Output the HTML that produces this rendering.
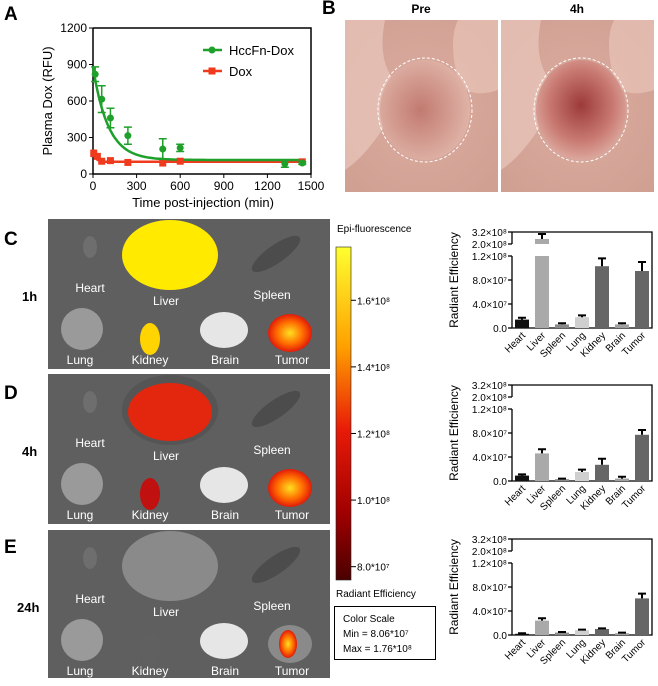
<!DOCTYPE html>
<html><head><meta charset="utf-8"><style>
body{margin:0;background:#fff;width:658px;height:681px;overflow:hidden;font-family:"Liberation Sans",Arial,sans-serif}
svg text{font-family:"Liberation Sans",Arial,sans-serif}
</style></head><body>
<svg id="fig" width="658" height="681" viewBox="0 0 658 681" xmlns="http://www.w3.org/2000/svg">
<defs>
<linearGradient id="cbar" x1="0" y1="0" x2="0" y2="1">
<stop offset="0" stop-color="#ffff30"/><stop offset="0.3" stop-color="#ffa000"/><stop offset="0.55" stop-color="#e81a08"/><stop offset="0.8" stop-color="#a00000"/><stop offset="1" stop-color="#4a0000"/></linearGradient>
<radialGradient id="skin" cx="0.5" cy="0.5" r="0.7"><stop offset="0" stop-color="#dcaca0"/><stop offset="1" stop-color="#cf9f92"/></radialGradient>
<radialGradient id="tum1" cx="0.45" cy="0.5" r="0.6"><stop offset="0" stop-color="#c27a70"/><stop offset="1" stop-color="#e2b8ac"/></radialGradient>
<radialGradient id="tum2" cx="0.5" cy="0.45" r="0.6"><stop offset="0" stop-color="#9c3a3a"/><stop offset="0.6" stop-color="#c97a72"/><stop offset="1" stop-color="#e0b3a8"/></radialGradient>
<radialGradient id="hot" cx="0.5" cy="0.5" r="0.5"><stop offset="0" stop-color="#ffe020"/><stop offset="0.6" stop-color="#ff6a00"/><stop offset="1" stop-color="#e01a0a"/></radialGradient>
</defs>
<g id="root"></g>
</svg>
<script>
// Panel A data
const timesH=[15,60,120,240,480,600,1320,1440];
const valsH=[820,615,460,315,205,215,85,90];
const errH=[60,110,80,70,85,30,30,10];
const timesD=[5,30,60,120,240,480,600,1440];
const valsD=[170,145,105,110,95,90,105,100];
const errD=[25,20,15,10,8,15,12,5];
const fitH={plateau:115,span:760,k:0.0095};
const fitD={plateau:100,span:80,k:0.05};
const xTicksA=[0,300,600,900,1200,1500];
const yTicksA=[0,300,600,900,1200];
// Bar chart data
const organs=["Heart","Liver","Spleen","Lung","Kidney","Brain","Tumor"];
const bars1h=[1.4e7,2.5e8,0.6e7,1.8e7,1.03e8,0.6e7,0.95e8];
const err1h=[0.3e7,0.5e8,0.2e7,0.3e7,1.3e7,0.2e7,1.5e7];
const bars4h=[0.9e7,4.6e7,0.3e7,1.5e7,2.7e7,0.4e7,7.7e7];
const err4h=[0.2e7,0.7e7,0.1e7,0.4e7,1.0e7,0.3e7,0.8e7];
const bars24h=[0.2e7,2.4e7,0.4e7,0.8e7,1.0e7,0.3e7,6.1e7];
const err24h=[0.1e7,0.4e7,0.1e7,0.1e7,0.1e7,0.1e7,0.8e7];
const barTickLow=[0,4e7,8e7,1.2e8];
const barTickLowLbl=["0.0","4.0×10⁷","8.0×10⁷","1.2×10⁸"];
const cbTicks=[1.6e8,1.4e8,1.2e8,1.0e8,8.0e7];
const cbTickLbl=["1.6*10⁸","1.4*10⁸","1.2*10⁸","1.0*10⁸","8.0*10⁷"];

const NS="http://www.w3.org/2000/svg";
const root=document.getElementById('root');
function mk(tag,attrs,parent,txt){const e=document.createElementNS(NS,tag);for(const k in attrs)e.setAttribute(k,attrs[k]);if(txt!==undefined)e.textContent=txt;(parent||root).appendChild(e);return e;}

[["A",4,20],["B",322,14],["C",4,245],["D",4,399],["E",4,553]].forEach(([t,x,y])=>{
 const e=mk('text',{x:x,y:y,'font-size':19,'font-weight':'bold'},root,t);
 
 
});

// ===== Panel A
const gA=mk('g',{});


const ax0=93,ax1=311,ay0=174,ay1=28;
const xA=v=>ax0+(v/1500)*(ax1-ax0);
const yA=v=>ay0-(v/1200)*(ay0-ay1);
let e;
e=mk('path',{d:`M${ax0} ${ay1}V${ay0}H${ax1}V${ay1}H${ax0}`,fill:'none',stroke:'#000','stroke-width':1.5},gA);

xTicksA.forEach(v=>{mk('line',{x1:xA(v),x2:xA(v),y1:ay0,y2:ay0+4,stroke:'#000'},gA);
 e=mk('text',{x:xA(v),y:ay0+16,'font-size':12,'text-anchor':'middle'},gA,v);
 });
yTicksA.forEach(v=>{mk('line',{x1:ax0-4,x2:ax0,y1:yA(v),y2:yA(v),stroke:'#000'},gA);
 e=mk('text',{x:ax0-6,y:yA(v)+4,'font-size':12,'text-anchor':'end'},gA,v);
 });
e=mk('text',{x:203,y:207,'font-size':13,'text-anchor':'middle'},gA,'Time post-injection (min)');

e=mk('text',{x:0,y:0,'font-size':13,'text-anchor':'middle',transform:`translate(52,101) rotate(-90)`},gA,'Plasma Dox (RFU)');

function fitPath(f){let d='';for(let t=0;t<=1440;t+=10){const v=f.plateau+f.span*Math.exp(-f.k*t);d+=(t?'L':'M')+xA(t).toFixed(1)+' '+yA(v).toFixed(1);}return d;}
e=mk('path',{d:fitPath(fitD),fill:'none',stroke:'#f03a1e','stroke-width':2.5},gA);

e=mk('path',{d:fitPath(fitH),fill:'none',stroke:'#1fa02a','stroke-width':2.5},gA);

timesD.forEach((t,i)=>{const x=xA(t),y=yA(valsD[i]);
 mk('path',{d:`M${x-3} ${yA(valsD[i]+errD[i])}h6M${x} ${yA(valsD[i]+errD[i])}V${yA(valsD[i]-errD[i])}M${x-3} ${yA(valsD[i]-errD[i])}h6`,stroke:'#f03a1e','stroke-width':1.5,fill:'none'},gA);
 e=mk('rect',{x:x-3.5,y:y-3.5,width:7,height:7,fill:'#f03a1e'},gA);
 });
timesH.forEach((t,i)=>{const x=xA(t),y=yA(valsH[i]);
 mk('path',{d:`M${x-4} ${yA(valsH[i]+errH[i])}h8M${x} ${yA(valsH[i]+errH[i])}V${yA(valsH[i]-errH[i])}M${x-4} ${yA(valsH[i]-errH[i])}h8`,stroke:'#1fa02a','stroke-width':1.5,fill:'none'},gA);
 e=mk('circle',{cx:x,cy:y,r:3.5,fill:'#1fa02a'},gA);
 });
let lg=mk('g',{},gA);
mk('line',{x1:203,x2:222,y1:50,y2:50,stroke:'#1fa02a','stroke-width':2.5},lg);mk('circle',{cx:212,cy:50,r:3.5,fill:'#1fa02a'},lg);
mk('text',{x:229,y:55,'font-size':13},lg,'HccFn-Dox');
lg=mk('g',{},gA);
mk('line',{x1:203,x2:222,y1:71,y2:71,stroke:'#f03a1e','stroke-width':2.5},lg);mk('rect',{x:208.5,y:67.5,width:7,height:7,fill:'#f03a1e'},lg);
mk('text',{x:229,y:76,'font-size':13},lg,'Dox');

// ===== Panel B photos
function photo(x,lbl,tg,name){const g=mk('g',{});
 mk('rect',{x:x,y:20,width:153,height:172,fill:'url(#skin)'},g);
 mk('path',{d:`M${x} 20h40q-10 50 20 70q-30 60 -60 80z`,fill:'#e9c8bc',opacity:0.7},g);
 mk('path',{d:`M${x+153} 20v70q-30 10 -40 -10q-10 -40 0 -60z`,fill:'#e8c4b8',opacity:0.7},g);
 mk('ellipse',{cx:x+80,cy:110,rx:45,ry:50,fill:tg},g);
 mk('ellipse',{cx:x+80,cy:110,rx:47,ry:52,fill:'none',stroke:'#fff','stroke-dasharray':'3 2','stroke-width':1},g);
 mk('text',{x:x+76,y:13,'font-size':12,'font-weight':'bold','text-anchor':'middle'},g,lbl);}
photo(345,'Pre','url(#tum1)','photo-pre');
photo(501,'4h','url(#tum2)','photo-4h');

// ===== Organ images
const organPos={Heart:[42,28,7,11],Liver:[122,36,48,35],Spleen:[228,35,18,9],Lung:[34,110,21,21],Kidney:[102,120,10,16],Brain:[176,111,24,18],Tumor:[242,114,22,19]};
const lblPos={Heart:[42,73],Liver:[118,86],Spleen:[224,80],Lung:[32,145],Kidney:[102,145],Brain:[177,145],Tumor:[244,145]};
const panels=[{y:219,t:'1h',fill:{Liver:'#ffea00',Kidney:'#ffd400',Tumor:'url(#hot)'}},
 {y:374,t:'4h',fill:{Liver:'#e3260e',Kidney:'#c01010',Tumor:'url(#hot)'}},
 {y:530,t:'24h',fill:{Tumor:'url(#hot)'}}];
const baseFill={Heart:'#6e6e6e',Liver:'#8a8a8a',Spleen:'#4c4c4c',Lung:'#9a9a9a',Kidney:'#606060',Brain:'#e6e6e6',Tumor:'#7a7a7a'};
panels.forEach((p,pi)=>{
 const g=mk('g',{transform:`translate(48,${p.y})`});
 
 mk('rect',{x:0,y:0,width:282,height:p.t==='24h'?148:150,fill:'#5f5f5f'},g);
 organs.forEach(o=>{const [cx,cy,rx,ry]=organPos[o];
  let f=(p.fill[o])||baseFill[o];
  if(o==='Spleen'){e=mk('ellipse',{cx:cx,cy:cy,rx:rx*1.6,ry:ry,fill:f,transform:`rotate(-35 ${cx} ${cy})`},g);}
  else if(o==='Tumor'&&p.t==='24h'){mk('ellipse',{cx:cx,cy:cy,rx:rx,ry:ry,fill:'#8a8a8a'},g);e=mk('ellipse',{cx:cx-2,cy:cy,rx:9,ry:14,fill:'url(#hot)'},g);}
  else if(o==='Liver'&&p.t==='4h'){mk('ellipse',{cx:cx,cy:cy,rx:rx,ry:ry,fill:'#555'},g);e=mk('ellipse',{cx:cx,cy:cy+2,rx:rx-6,ry:ry-6,fill:f},g);}
  else e=mk('ellipse',{cx:cx,cy:cy,rx:rx,ry:ry,fill:f},g);
  
  const [lx,lyy]=lblPos[o];
  e=mk('text',{x:lx,y:lyy,'font-size':12,fill:'#fff','text-anchor':'middle'},g,o);
  
 });
 e=mk('text',{x:p.t==='24h'?17:22,y:p.y+82,'font-size':13,'font-weight':'bold'},root,p.t);
 
});

// ===== Colorbar
e=mk('text',{x:337,y:232,'font-size':10},root,'Epi-fluorescence');

e=mk('rect',{x:336,y:247,width:15,height:333,fill:'url(#cbar)',stroke:'#222','stroke-width':0.6});

const cbY=v=>580-(v-7.6e7)/(1.76e8-7.6e7)*333;
cbTicks.forEach((v,i)=>{const y=cbY(v);mk('line',{x1:351,x2:356,y1:y,y2:y,stroke:'#000'});
 e=mk('text',{x:357,y:y+4,'font-size':10},root,cbTickLbl[i]);
 });
e=mk('text',{x:336,y:597,'font-size':10},root,'Radiant Efficiency');

const box=mk('g',{});
mk('rect',{x:334.5,y:606.5,width:101,height:53,fill:'#fff',stroke:'#000'},box);
mk('text',{x:343,y:622,'font-size':10},box,'Color Scale');
mk('text',{x:343,y:637,'font-size':10},box,'Min = 8.06*10⁷');
mk('text',{x:343,y:652,'font-size':10},box,'Max = 1.76*10⁸');

// ===== Bar charts
const barColors=['#111111','#a9a9a9','#8a8a8a','#cfcfcf','#666666','#a0a0a0','#666666'];
function barChart(top,vals,errs,name){
 const g=mk('g',{});
 const x0=512,x1=652,base=top+96,lowTop=top+24,brk=top+12;
 const y=v=>v<=1.2e8?base-(v/1.2e8)*(base-lowTop):brk-((v-2.0e8)/1.2e8)*(brk-top);
 mk('path',{d:`M${x0} ${top}H${x1}V${base}H${x0}V${lowTop}M${x0} ${brk}V${top}`,fill:'none',stroke:'#000','stroke-width':1.3},g);
 barTickLow.forEach((v,i)=>{mk('line',{x1:x0-4,x2:x0,y1:y(v),y2:y(v),stroke:'#000','stroke-width':1.3},g);
  e=mk('text',{x:x0-5,y:y(v)+4,'font-size':10,'text-anchor':'end'},g,barTickLowLbl[i]);
  });
 [[2.0e8,'2.0×10⁸'],[3.2e8,'3.2×10⁸']].forEach(([v,l])=>{mk('line',{x1:x0-4,x2:x0,y1:y(v),y2:y(v),stroke:'#000','stroke-width':1.3},g);
  e=mk('text',{x:x0-5,y:y(v)+4,'font-size':10,'text-anchor':'end'},g,l);
  });
 e=mk('text',{x:0,y:0,'font-size':12,'text-anchor':'middle',transform:`translate(458,${top+48}) rotate(-90)`},g,'Radiant Efficiency');
 
 const bw=14,step=(x1-x0)/7;
 vals.forEach((v,i)=>{const cx=x0+step*(i+0.5);
  if(v>1.2e8){mk('rect',{x:cx-bw/2,y:lowTop,width:bw,height:base-lowTop,fill:barColors[i]},g);
   e=mk('rect',{x:cx-bw/2,y:y(v),width:bw,height:brk-y(v),fill:barColors[i]},g);}
  else e=mk('rect',{x:cx-bw/2,y:y(v),width:bw,height:base-y(v),fill:barColors[i]},g);
  
  const ye=y(v+errs[i]);
  mk('path',{d:`M${cx} ${y(v)}V${ye}M${cx-4} ${ye}h8`,stroke:'#000','stroke-width':2,fill:'none'},g);
  e=mk('text',{x:0,y:0,'font-size':10,'text-anchor':'end',transform:`translate(${cx+4},${base+8}) rotate(-45)`},g,organs[i]);
  
 });
}
barChart(232,bars1h,err1h,'bar-chart-1h');
barChart(385,bars4h,err4h,'bar-chart-4h');
barChart(539,bars24h,err24h,'bar-chart-24h');
</script>
</body></html>
